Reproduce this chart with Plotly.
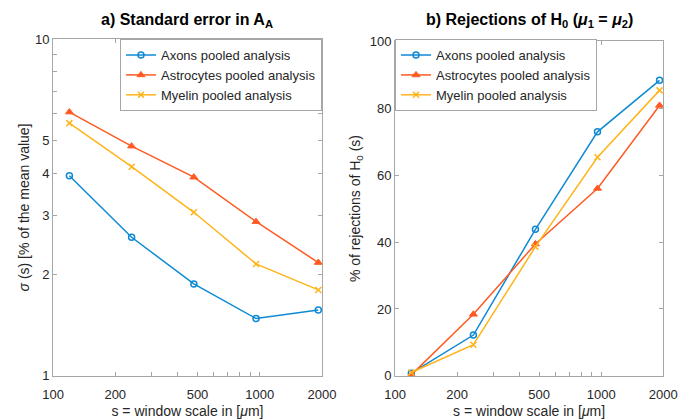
import plotly.graph_objects as go

# window scales (µm)
scales = [120, 240, 480, 960, 1920]

# a) standard error in A_A  [% of the mean value]
se_axons = [3.93, 2.58, 1.875, 1.48, 1.57]
se_astro = [6.07, 4.81, 3.89, 2.87, 2.17]
se_myelin = [5.63, 4.18, 3.06, 2.15, 1.80]

# b) % of rejections of H0
rej_axons = [0.8, 12.2, 43.8, 72.9, 88.3]
rej_astro = [0.3, 18.4, 39.4, 56.0, 80.8]
rej_myelin = [1.0, 9.3, 38.6, 65.3, 85.3]

x_ticks = [100, 200, 300, 400, 500, 600, 700, 800, 900, 1000, 2000]
x_labels = ["100", "200", "", "", "500", "", "", "", "", "1000", "2000"]
y_log_ticks = [1, 2, 3, 4, 5, 6, 7, 8, 9, 10]
y_log_labels = ["1", "2", "3", "4", "5", "", "", "", "", "10"]
y_lin_ticks = [0, 20, 40, 60, 80, 100]

COLORS = {
    "blue": "#0E8AD4",
    "orange": "#FF5A22",
    "yellow": "#FFB41A",
    "axis": "#A6A6A6",
    "text": "#262626",
}

series = [
    ("Axons pooled analysis", se_axons, rej_axons, COLORS["blue"],
     dict(symbol="circle-open", size=6, line=dict(width=1.5))),
    ("Astrocytes pooled analysis", se_astro, rej_astro, COLORS["orange"],
     dict(symbol="triangle-up", size=7, line=dict(width=1))),
    ("Myelin pooled analysis", se_myelin, rej_myelin, COLORS["yellow"],
     dict(symbol="x-thin-open", size=6, line=dict(width=1.5))),
]

fig = go.Figure()
for name, se, rej, color, marker in series:
    m = dict(marker, color=color)
    m["line"] = dict(marker["line"], color=color)
    fig.add_trace(go.Scatter(
        x=scales, y=se, name=name, mode="lines+markers",
        line=dict(color=color, width=1.5), marker=m,
        xaxis="x", yaxis="y", legend="legend",
    ))
    fig.add_trace(go.Scatter(
        x=scales, y=rej, name=name, mode="lines+markers",
        line=dict(color=color, width=1.5), marker=m,
        xaxis="x2", yaxis="y2", legend="legend2",
    ))

axis_common = dict(
    showline=True, linecolor=COLORS["axis"], linewidth=1, mirror="ticks",
    ticks="inside", ticklen=4, tickcolor=COLORS["axis"],
    showgrid=False, zeroline=False, automargin=False,
    tickfont=dict(size=13, color=COLORS["text"]),
)
xtitle = dict(text="s = window scale in [<i>μ</i>m]", font=dict(size=14, color=COLORS["text"]), standoff=5)

legend_common = dict(
    bgcolor="white", bordercolor=COLORS["axis"], borderwidth=1,
    font=dict(size=13, color=COLORS["text"]), yanchor="top", y=0.907,
    tracegroupgap=0, itemwidth=30,
)

fig.update_layout(
    width=693, height=420,
    paper_bgcolor="white", plot_bgcolor="white",
    font=dict(family="Liberation Sans, Arial, sans-serif", color=COLORS["text"]),
    margin=dict(l=0, r=0, t=0, b=0),
    xaxis=dict(axis_common, type="log", domain=[0.0765, 0.4646],
               range=[2, 3.30103], tickvals=x_ticks, ticktext=x_labels,
               ticklabelstandoff=6, title=xtitle, anchor="y"),
    yaxis=dict(axis_common, type="log", domain=[0.105, 0.907],
               range=[0, 1], tickvals=y_log_ticks, ticktext=y_log_labels,
               title=dict(text="<i>σ</i> (s) [% of the mean value]",
                          font=dict(size=14, color=COLORS["text"]), standoff=2),
               anchor="x"),
    xaxis2=dict(axis_common, type="log", domain=[0.570, 0.957],
                range=[2, 3.30103], tickvals=x_ticks, ticktext=x_labels,
                ticklabelstandoff=6, title=xtitle, anchor="y2"),
    yaxis2=dict(axis_common, domain=[0.105, 0.902], range=[0, 100],
                tickvals=y_lin_ticks,
                title=dict(text="% of rejections of H<sub>0</sub> (s)",
                           font=dict(size=14, color=COLORS["text"]), standoff=5),
                anchor="x2"),
    legend=dict(legend_common, x=0.4646, xanchor="right"),
    legend2=dict(legend_common, x=0.570, xanchor="left"),
    annotations=[
        dict(text="<b>a) Standard error in A<sub>A</sub></b>", x=0.2705, y=0.952,
             xref="paper", yref="paper", xanchor="center", yanchor="middle",
             showarrow=False, font=dict(size=16, color="black")),
        dict(text="<b>b) Rejections of H<sub>0</sub> (<i>μ</i><sub>1</sub> = <i>μ</i><sub>2</sub>)</b>",
             x=0.7635, y=0.952, xref="paper", yref="paper", xanchor="center",
             yanchor="middle", showarrow=False, font=dict(size=16, color="black")),
    ],
)

# drop the default page margin so the figure fills the window
fig.write_html("out.html", config={"displayModeBar": False},
               post_script="document.body.style.margin='0';")
